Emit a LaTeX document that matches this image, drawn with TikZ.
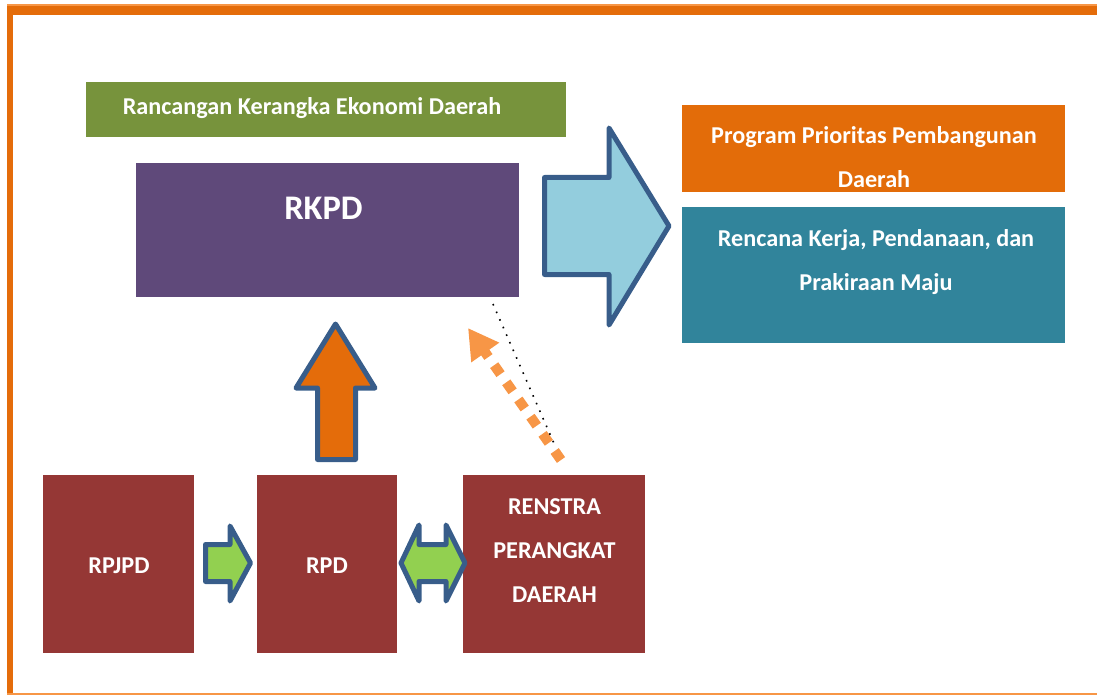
\documentclass[tikz,border=0pt]{standalone}
\usepackage{fontspec}
\setmainfont{Carlito}
\usetikzlibrary{arrows.meta}

\definecolor{frameorange}{HTML}{E46C0A}
\definecolor{framelight}{HTML}{F79646}
\definecolor{kerangkagreen}{HTML}{77933C}
\definecolor{rkpdpurple}{HTML}{5F497A}
\definecolor{prioritasorange}{HTML}{E36C09}
\definecolor{rencanateal}{HTML}{31849B}
\definecolor{arrowblue}{HTML}{385D8A}
\definecolor{arrowlightblue}{HTML}{93CDDD}
\definecolor{arrowgreen}{HTML}{92D050}
\definecolor{docmaroon}{HTML}{953735}

\begin{document}
\begin{tikzpicture}[x=1pt, y=-1pt, >=Stealth,
    % Define the style for the coloured boxes
    box/.style={rectangle, anchor=north west, inner sep=0pt, outer sep=0pt},
    doc box/.style={box, fill=docmaroon, minimum height=178pt},
    % Define the style for the white texts
    box text/.style={text=white, inner sep=0pt, align=center,
        font=\bfseries\fontsize{24.2}{44}\selectfont},
    % Define the style for the block arrows
    block arrow/.style={draw=arrowblue, line width=5pt, line join=round},
    % Define the style for the dashed and dotted connectors
    dashed link/.style={draw=framelight, line width=10pt,
        dash pattern=on 11pt off 10pt, -{Triangle[length=30pt,width=32pt]}},
    dotted link/.style={draw=black, line width=1.6pt,
        dash pattern=on 1.6pt off 6.7pt}
]
\useasboundingbox (0,0) rectangle (1097,695);

% Frame round the picture (open on the right)
\fill[framelight] (7,4.5) rectangle (1097,7);
\fill[frameorange] (7,6.5) rectangle (1097,15);
\fill[frameorange] (7,6.5) rectangle (12.5,694);
\draw[framelight, line width=1.5pt] (7,694) -- (1097,694);

% Upper boxes
\node[box, fill=kerangkagreen, minimum width=480pt, minimum height=55pt] (kerangka) at (86,82) {};
\node[box, fill=rkpdpurple, minimum width=383pt, minimum height=134pt] (rkpd) at (136,163) {};
\node[box, fill=prioritasorange, minimum width=383pt, minimum height=87pt] (prioritas) at (682,105) {};
\node[box, fill=rencanateal, minimum width=383pt, minimum height=136pt] (rencana) at (682,207) {};

% Lower boxes
\node[doc box, minimum width=151pt] (rpjpd) at (43,475) {};
\node[doc box, minimum width=140pt] (rpd) at (257,475) {};
\node[doc box, minimum width=182pt] (renstra) at (463,475) {};

% Texts of the boxes (base = baseline of the last line)
\node[box text, anchor=base] (kerangka-text) at (312,115) {Rancangan Kerangka Ekonomi Daerah};
\node[box text, anchor=base, font=\bfseries\fontsize{34.5}{40}\selectfont] (rkpd-text) at (323.5,219) {RKPD};
\node[box text, anchor=base] (prioritas-text) at (874,188) {Program Prioritas Pembangunan\\Daerah};
\node[box text, anchor=base] (rencana-text) at (876,290) {Rencana Kerja, Pendanaan, dan\\Prakiraan Maju};
\node[box text, anchor=base] (rpjpd-text) at (119,573) {RPJPD};
\node[box text, anchor=base] (rpd-text) at (327,573) {RPD};
\node[box text, anchor=base] (renstra-text) at (554.5,602) {RENSTRA\\PERANGKAT\\DAERAH};

% Big arrow from RKPD to the right-hand boxes
\draw[block arrow, fill=arrowlightblue] (544.5,177.5) -- (609,177.5) -- (609,128)
    -- (669,226) -- (609,325) -- (609,274.5) -- (544.5,274.5) -- cycle;

% Arrow up from RPD to RKPD
\draw[block arrow, fill=frameorange] (317.5,459.5) -- (317.5,388) -- (296,388)
    -- (335.5,324) -- (375,388) -- (355.5,388) -- (355.5,459.5) -- cycle;

% Arrow from RPJPD to RPD
\draw[block arrow, fill=arrowgreen] (205.5,544.5) -- (230,544.5) -- (230,526)
    -- (250.5,563) -- (230,601) -- (230,581.5) -- (205.5,581.5) -- cycle;

% Double arrow between RPD and RENSTRA
\draw[block arrow, fill=arrowgreen] (401,563) -- (419,525) -- (419,544.5)
    -- (446,544.5) -- (446,525) -- (465,563) -- (446,601) -- (446,581.5)
    -- (419,581.5) -- (419,601) -- cycle;

% Dashed and dotted links from RENSTRA towards RKPD
\coordinate (dash-start) at (561,460);
\coordinate (dash-end) at (468,328);
\draw[dashed link] (dash-start) -- (dash-end);
\coordinate (dot-start) at (493,304);
\coordinate (dot-end) at (556,448);
\draw[dotted link] (dot-start) -- (dot-end);

\end{tikzpicture}
\end{document}
